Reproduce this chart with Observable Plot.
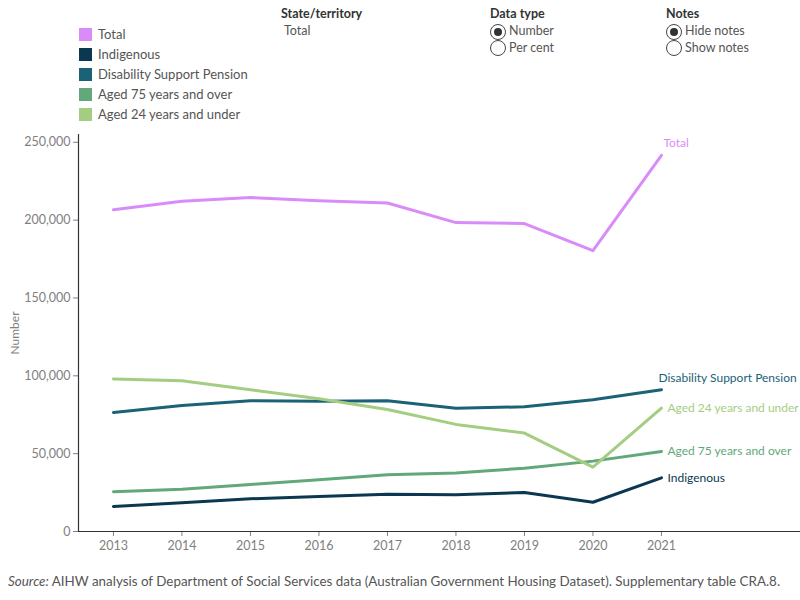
<!DOCTYPE html>
<html>
<head>
<meta charset="utf-8">
<script src="https://cdn.jsdelivr.net/npm/d3@7"></script>
<script src="https://cdn.jsdelivr.net/npm/@observablehq/plot@0.6"></script>
<style>
  html, body { margin: 0; padding: 0; background: #fff; }
  body { width: 800px; height: 600px; position: relative; font-family: Lato, "Noto Sans", sans-serif; color: #555; overflow: hidden; }
  .abs { position: absolute; white-space: nowrap; }
  .legend-row { position: absolute; left: 79px; height: 20px; display: flex; align-items: center; font-size: 13px; color: #555; }
  .legend-row .sw { width: 13px; height: 13px; margin-right: 6px; }
  .ctl-title { font-size: 12.5px; font-weight: bold; color: #333; }
  .ctl-text { font-size: 12.5px; color: #555; }
  .radio { position: absolute; width: 16px; height: 16px; border: 1.2px solid #444; border-radius: 50%; box-sizing: border-box; }
  .radio.on::after { content: ""; position: absolute; left: 2.5px; top: 2.5px; width: 8.6px; height: 8.6px; border-radius: 50%; background: #333; }
  #chart { position: absolute; left: 0; top: 120px; }
  #source { position: absolute; left: 8px; top: 573px; font-size: 13.4px; color: #555; white-space: nowrap; }
</style>
</head>
<body>
<div id="legend"></div>

<div class="abs ctl-title" style="left:281px; top:6px;">State/territory</div>
<div class="abs ctl-text" style="left:284px; top:23px;">Total</div>

<div class="abs ctl-title" style="left:490px; top:6px;">Data type</div>
<div class="radio on" style="left:490px; top:24px;"></div>
<div class="abs ctl-text" style="left:509px; top:23px;">Number</div>
<div class="radio" style="left:490px; top:40px;"></div>
<div class="abs ctl-text" style="left:509px; top:40px;">Per cent</div>

<div class="abs ctl-title" style="left:666px; top:6px;">Notes</div>
<div class="radio on" style="left:666px; top:24px;"></div>
<div class="abs ctl-text" style="left:685px; top:23px;">Hide notes</div>
<div class="radio" style="left:666px; top:40px;"></div>
<div class="abs ctl-text" style="left:685px; top:40px;">Show notes</div>

<div id="chart"></div>
<div id="source"></div>

<script>
const years = [2013, 2014, 2015, 2016, 2017, 2018, 2019, 2020, 2021];
const seriesNames = ["Total", "Indigenous", "Disability Support Pension", "Aged 75 years and over", "Aged 24 years and under"];
const seriesColors = ["#d98cf8", "#0b3850", "#1b6276", "#62a87a", "#a5cd82"];
const total      = [206700, 212100, 214500, 212500, 211000, 198400, 197800, 180400, 241600];
const indigenous = [16100, 18400, 21000, 22500, 24000, 23600, 25100, 18800, 34500];
const dsp        = [76500, 81000, 84000, 83700, 84000, 79200, 80100, 84600, 91100];
const aged75     = [25500, 27200, 30200, 33200, 36400, 37500, 40700, 45200, 51400];
const aged24     = [97900, 96900, 91100, 85300, 78400, 68800, 63200, 41300, 79200];
const yTicks = [0, 50000, 100000, 150000, 200000, 250000];
const yLabel = "Number";
const sourceText = "AIHW analysis of Department of Social Services data (Australian Government Housing Dataset). Supplementary table CRA.8.";

document.getElementById("source").innerHTML = "<i>Source:</i> " + sourceText;

const valuesBySeries = [total, indigenous, dsp, aged75, aged24];
const data = [];
seriesNames.forEach((s, i) => years.forEach((y, j) => data.push({series: s, year: y, value: valuesBySeries[i][j]})));
const last = seriesNames.map((s, i) => ({series: s, year: years[years.length - 1], value: valuesBySeries[i][years.length - 1]}));

// legend
const legend = document.getElementById("legend");
seriesNames.forEach((s, i) => {
  const row = document.createElement("div");
  row.className = "legend-row";
  row.style.top = (24 + i * 20) + "px";
  row.innerHTML = `<div class="sw" style="background:${seriesColors[i]}"></div><span>${s}</span>`;
  legend.appendChild(row);
});

const xDomain = [2012.49, 2023.03];
const yDomain = [0, 255000];
const colorMap = Object.fromEntries(seriesNames.map((s, i) => [s, seriesColors[i]]));

const labelOpts = {
  "Total": {dx: 2, dy: -12},
  "Disability Support Pension": {dx: -3, dy: -12},
  "Aged 24 years and under": {dx: 6, dy: 0},
  "Aged 75 years and over": {dx: 6, dy: 0},
  "Indigenous": {dx: 6, dy: 0}
};

const chart = Plot.plot({
  width: 800,
  height: 440,
  marginLeft: 78,
  marginRight: 0,
  marginTop: 14,
  marginBottom: 29,
  style: {fontFamily: "Lato, 'Noto Sans', sans-serif", fontSize: "12.5px", color: "#808080", background: "transparent"},
  x: {domain: xDomain, ticks: years, tickFormat: d => String(d), tickSize: 5, tickPadding: 5, label: null},
  y: {domain: yDomain, ticks: yTicks, tickFormat: d3.format(","), tickSize: 5, tickPadding: 3, label: null},
  marks: [
    Plot.ruleY([yDomain[0]], {stroke: "#333", strokeWidth: 1.2}),
    Plot.ruleX([xDomain[0]], {y1: yDomain[0], y2: yDomain[1], stroke: "#333", strokeWidth: 1.2}),
    Plot.line(data, {x: "year", y: "value", z: "series", stroke: d => colorMap[d.series], strokeWidth: 3, strokeLinejoin: "round", strokeLinecap: "round"}),
    ...last.map(d => Plot.text([d], {
      x: "year", y: "value", text: "series", textAnchor: "start",
      fill: colorMap[d.series], fontSize: 12,
      dx: labelOpts[d.series].dx, dy: labelOpts[d.series].dy
    })),
    Plot.text([yLabel], {frameAnchor: "left", textAnchor: "middle", dx: -63, dy: 0, rotate: -90, text: d => d, fill: "#808080", fontSize: 12})
  ]
});
document.getElementById("chart").appendChild(chart);
</script>
</body>
</html>
